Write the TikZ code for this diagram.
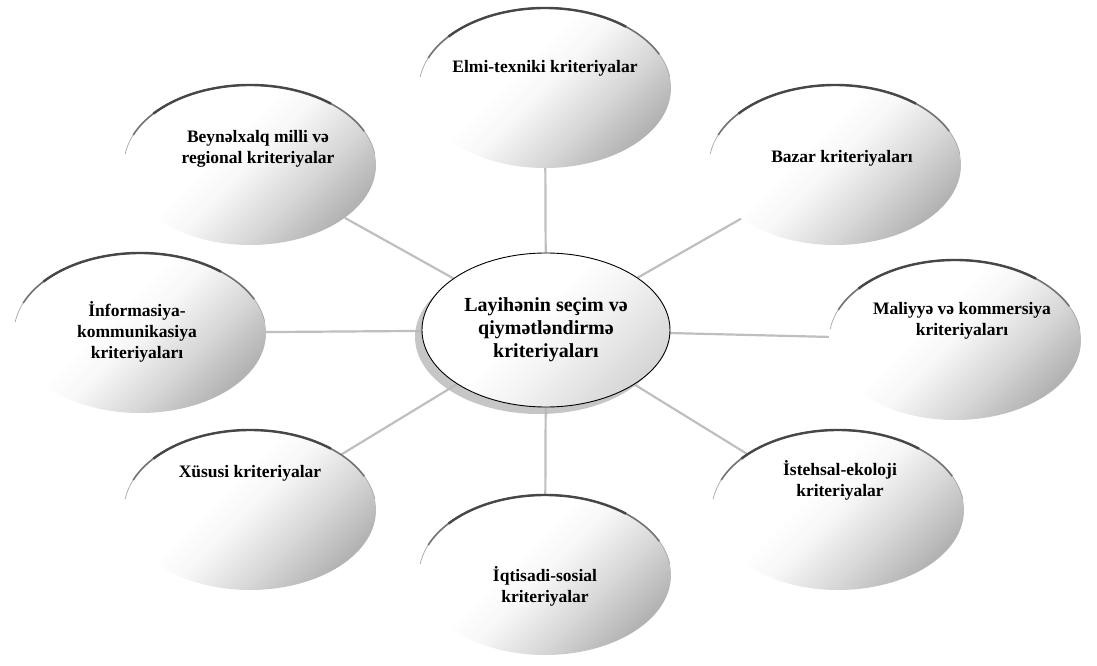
\documentclass[tikz,border=0pt]{standalone}
\usepackage{fontspec}
\setmainfont{Liberation Serif}
\usetikzlibrary{shapes.geometric,shadows,backgrounds}
\pgfdeclareverticalshading{satshade}{100bp}{color(0bp)=(black!30); color(25bp)=(black!30); color(37bp)=(black!16); color(50bp)=(black!3); color(58bp)=(white); color(100bp)=(white)}
\pgfdeclareverticalshading{hubshade}{100bp}{color(0bp)=(black!16); color(25bp)=(black!16); color(45bp)=(black!4); color(55bp)=(white); color(100bp)=(white)}
\newcommand\toparc[1]{%
  \draw[line width=0.7pt, black!35] (#1.center) ++(172:126pt and 80pt) arc[start angle=172,end angle=8,x radius=126pt,y radius=80pt];
  \draw[line width=1.6pt, black!55] (#1.center) ++(158:126pt and 80pt) arc[start angle=158,end angle=25,x radius=126pt,y radius=80pt];
  \draw[line width=2.4pt, black!72] (#1.center) ++(140:126pt and 80pt) arc[start angle=140,end angle=50,x radius=126pt,y radius=80pt];
}
\begin{document}
\begin{tikzpicture}[x=1pt,y=1pt,
  sat/.style={ellipse, inner sep=0pt, minimum width=252pt, minimum height=160pt,
    shading=satshade, shading angle=45},
  sattext/.style={font=\bfseries\fontsize{17.5}{21}\selectfont, align=center, inner sep=0pt},
  hub/.style={ellipse, draw=black, line width=0.9pt, inner sep=0pt,
    minimum width=248pt, minimum height=154pt,
    shading=hubshade, shading angle=45,
    drop shadow={shadow xshift=-7pt, shadow yshift=-7pt, fill=black!28, opacity=0.8},
    font=\bfseries\fontsize{20}{23}\selectfont, align=center},
  conn/.style={draw=black!25, line width=2.2pt}]
\useasboundingbox (0,0) rectangle (1097,665);
\node[sat] (E) at (545,577) {};
\node[sat] (B) at (250,500) {};
\node[sat] (Z) at (835,500) {};
\node[sat] (I) at (140,332) {};
\node[sat] (M) at (955,325) {};
\node[sat] (X) at (250,155) {};
\node[sat] (S) at (838,155) {};
\node[sat] (Q) at (545,90) {};
\foreach \n in {E,B,Z,I,M,X,S,Q}{\toparc{\n}}
\node[hub] (C) at (546,335) {Layihənin seçim və\\qiymətləndirmə\\kriteriyaları};
\begin{pgfonlayer}{background}
\foreach \n in {E,B,Z,I,M,X,S,Q}{\draw[conn] (C) -- (\n);}
\end{pgfonlayer}
\node[sattext] (Et) at (545,597) {Elmi-texniki kriteriyalar};
\node[sattext] (Bt) at (258,516) {Beynəlxalq milli və\\regional kriteriyalar};
\node[sattext] (Zt) at (842,507) {Bazar kriteriyaları};
\node[sattext] (It) at (137,333) {İnformasiya-\\kommunikasiya\\kriteriyaları};
\node[sattext] (Mt) at (962,344) {Maliyyə və kommersiya\\kriteriyaları};
\node[sattext] (Xt) at (250,192) {Xüsusi kriteriyalar};
\node[sattext] (St) at (840,185) {İstehsal-ekoloji\\kriteriyalar};
\node[sattext] (Qt) at (545,79) {İqtisadi-sosial\\kriteriyalar};
\end{tikzpicture}
\end{document}
